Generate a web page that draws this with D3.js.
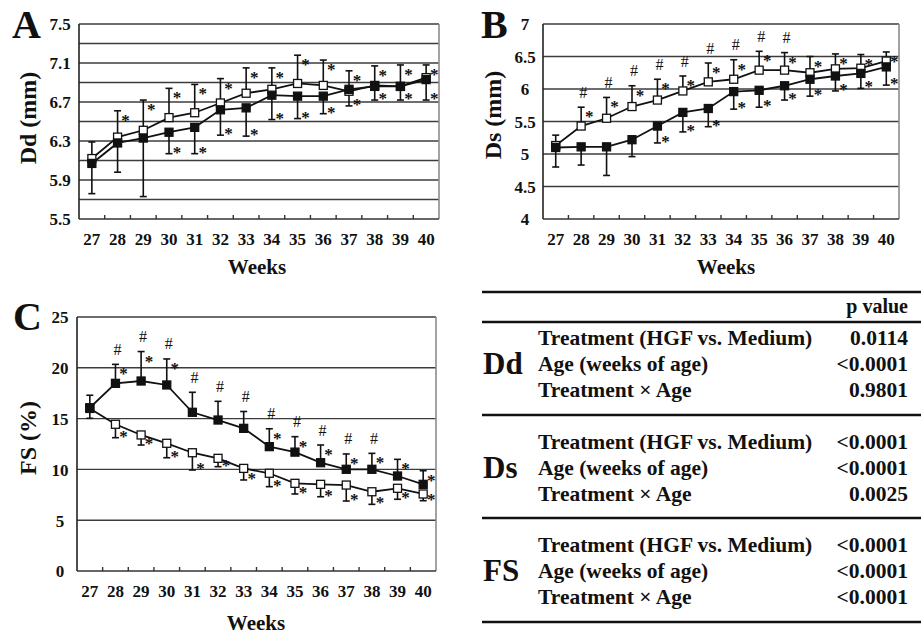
<!DOCTYPE html>
<html>
<head>
<meta charset="utf-8">
<script src="https://cdn.jsdelivr.net/npm/d3@7"></script>
<style>
body { margin: 0; background: #fff; }
svg text { font-family: "Liberation Serif", "Times New Roman", serif; font-weight: bold; fill: #111; }
</style>
</head>
<body>
<svg id="chart" width="922" height="634"></svg>
<script>
const weeks = [27, 28, 29, 30, 31, 32, 33, 34, 35, 36, 37, 38, 39, 40];

// Panel A - Dd (mm)
const ddOpen = [6.12, 6.34, 6.41, 6.54, 6.59, 6.69, 6.79, 6.83, 6.89, 6.87, 6.81, 6.87, 6.86, 6.95];
const ddOpenSD = [0.17, 0.27, 0.31, 0.30, 0.29, 0.25, 0.26, 0.22, 0.29, 0.26, 0.21, 0.20, 0.22, 0.13];
const ddFilled = [6.07, 6.28, 6.33, 6.39, 6.44, 6.62, 6.64, 6.77, 6.76, 6.76, 6.83, 6.86, 6.86, 6.93];
const ddFilledSD = [0.31, 0.30, 0.60, 0.22, 0.27, 0.26, 0.29, 0.25, 0.23, 0.18, 0.17, 0.14, 0.14, 0.21];
const ddOpenStars = [28, 29, 30, 31, 32, 33, 34, 35, 36, 37, 38, 39, 40];
const ddFilledStars = [30, 31, 32, 33, 34, 35, 36, 37, 38, 39, 40];
const ddHashes = [];
const ddTicks = [5.5, 5.9, 6.3, 6.7, 7.1, 7.5];
const ddGrid = [5.7, 5.9, 6.1, 6.3, 6.5, 6.7, 6.9, 7.1, 7.3, 7.5];

// Panel B - Ds (mm)
const dsOpen = [5.13, 5.43, 5.55, 5.73, 5.83, 5.97, 6.11, 6.15, 6.29, 6.29, 6.25, 6.31, 6.32, 6.43];
const dsOpenSD = [0.16, 0.29, 0.32, 0.32, 0.32, 0.23, 0.29, 0.30, 0.29, 0.27, 0.25, 0.23, 0.21, 0.14];
const dsFilled = [5.10, 5.11, 5.11, 5.22, 5.43, 5.64, 5.70, 5.96, 5.98, 6.05, 6.15, 6.20, 6.24, 6.34];
const dsFilledSD = [0.30, 0.28, 0.44, 0.26, 0.26, 0.30, 0.28, 0.27, 0.26, 0.22, 0.26, 0.23, 0.23, 0.28];
const dsOpenStars = [28, 29, 30, 31, 32, 33, 34, 35, 36, 37, 38, 39, 40];
const dsFilledStars = [31, 32, 33, 34, 35, 36, 37, 38, 39, 40];
const dsHashes = [28, 29, 30, 31, 32, 33, 34, 35, 36];
const dsTicks = [4, 4.5, 5, 5.5, 6, 6.5, 7];
const dsGrid = [4.5, 5, 5.5, 6, 6.5, 7];

// Panel C - FS (%)
const fsOpen = [16.0, 14.44, 13.39, 12.57, 11.64, 11.09, 10.1, 9.62, 8.63, 8.53, 8.46, 7.8, 8.14, 7.58];
const fsOpenSD = [0.97, 1.32, 0.99, 1.42, 1.70, 0.82, 1.14, 1.32, 1.05, 1.22, 1.57, 1.24, 1.08, 0.66];
const fsFilled = [16.07, 18.47, 18.7, 18.31, 15.62, 14.86, 14.04, 12.24, 11.7, 10.66, 10.01, 10.01, 9.35, 8.53];
const fsFilledSD = [1.23, 1.87, 2.9, 2.56, 1.97, 1.84, 1.66, 1.76, 1.52, 1.74, 1.51, 1.57, 1.64, 1.34];
const fsOpenStars = [28, 29, 30, 31, 32, 33, 34, 35, 36, 37, 38, 39, 40];
const fsFilledStars = [28, 29, 30, 34, 35, 36, 37, 38, 39, 40];
const fsHashes = [28, 29, 30, 31, 32, 33, 34, 35, 36, 37, 38];
const fsTicks = [0, 5, 10, 15, 20, 25];
const fsGrid = [5, 10, 15, 20, 25];

// Table
const tableGroups = ['Dd', 'Ds', 'FS'];
const tableEffects = ['Treatment (HGF vs. Medium)', 'Age (weeks of age)', 'Treatment \u00d7 Age'];
const ddP = ['0.0114', '<0.0001', '0.9801'];
const dsP = ['<0.0001', '<0.0001', '0.0025'];
const fsP = ['<0.0001', '<0.0001', '<0.0001'];

const svg = d3.select('#chart');

const panels = [
    { letter: 'A', lx: 12, ly: 38, title: 'Dd (mm)', tx: 36, ty: 118, wx: 257, wy: 274,
      x0: 79, x1: 439, y0: 24, y1: 219, domain: [5.5, 7.5], ticks: ddTicks, grid: ddGrid, labelX: 60,
      open: { mean: ddOpen, sd: ddOpenSD, dir: 1, stars: ddOpenStars, hashes: ddHashes },
      filled: { mean: ddFilled, sd: ddFilledSD, dir: -1, stars: ddFilledStars, hashes: [] } },
    { letter: 'B', lx: 481, ly: 38, title: 'Ds (mm)', tx: 501, ty: 115, wx: 726, wy: 274,
      x0: 543, x1: 899, y0: 24, y1: 219, domain: [4, 7], ticks: dsTicks, grid: dsGrid, labelX: 525,
      open: { mean: dsOpen, sd: dsOpenSD, dir: 1, stars: dsOpenStars, hashes: dsHashes },
      filled: { mean: dsFilled, sd: dsFilledSD, dir: -1, stars: dsFilledStars, hashes: [] } },
    { letter: 'C', lx: 13, ly: 330, title: 'FS (%)', tx: 36, ty: 438, wx: 256, wy: 630,
      x0: 77, x1: 436, y0: 317, y1: 571, domain: [0, 25], ticks: fsTicks, grid: fsGrid, labelX: 60,
      open: { mean: fsOpen, sd: fsOpenSD, dir: -1, stars: fsOpenStars, hashes: [] },
      filled: { mean: fsFilled, sd: fsFilledSD, dir: 1, stars: fsFilledStars, hashes: fsHashes } },
];

panels.forEach(drawPanel);
drawTable();

function drawPanel(p) {
    const g = svg.append('g');
    const x = d3.scaleBand().domain(weeks).range([p.x0, p.x1]);
    const y = d3.scaleLinear().domain(p.domain).range([p.y1, p.y0]);
    const cx = (w) => x(w) + x.bandwidth() / 2;

    // grid
    g.selectAll('line.grid').data(p.grid).join('line')
        .attr('class', 'grid')
        .attr('x1', p.x0).attr('x2', p.x1)
        .attr('y1', (d) => y(d)).attr('y2', (d) => y(d))
        .attr('stroke', '#3c3c3c').attr('stroke-width', 1.4);
    g.append('line').attr('x1', p.x1).attr('x2', p.x1).attr('y1', p.y0).attr('y2', p.y1)
        .attr('stroke', '#8c8c8c').attr('stroke-width', 1.6);
    g.append('line').attr('x1', p.x0).attr('x2', p.x0).attr('y1', p.y0).attr('y2', p.y1)
        .attr('stroke', '#222').attr('stroke-width', 1.6);
    g.append('line').attr('x1', p.x0).attr('x2', p.x1).attr('y1', p.y1).attr('y2', p.y1)
        .attr('stroke', '#333').attr('stroke-width', 1.6);
    // inward ticks between weeks
    g.selectAll('line.tick').data(weeks.slice(1)).join('line')
        .attr('class', 'tick')
        .attr('x1', (d) => x(d)).attr('x2', (d) => x(d))
        .attr('y1', p.y1).attr('y2', p.y1 - 4)
        .attr('stroke', '#333').attr('stroke-width', 1.4);

    // x axis labels
    const xa = g.append('g').attr('transform', 'translate(0,' + p.y1 + ')')
        .call(d3.axisBottom(x).tickSize(0).tickPadding(14));
    xa.select('.domain').remove();
    xa.attr('font-family', null).attr('font-size', null);
    xa.selectAll('text').style('font-size', '17px');

    // y axis labels
    const ya = g.append('g').attr('transform', 'translate(' + p.x0 + ',0)')
        .call(d3.axisLeft(y).tickValues(p.ticks).tickSize(0).tickFormat((d) => String(d)));
    ya.select('.domain').remove();
    ya.attr('font-family', null).attr('font-size', null);
    ya.selectAll('text').style('font-size', '17px')
        .attr('text-anchor', 'middle').attr('x', p.labelX - p.x0).attr('dy', '0.35em');

    // titles
    g.append('text').attr('x', p.lx).attr('y', p.ly).style('font-size', '40px').text(p.letter);
    g.append('text').attr('transform', 'translate(' + p.tx + ',' + p.ty + ') rotate(-90)')
        .attr('text-anchor', 'middle').style('font-size', '24px').text(p.title);
    g.append('text').attr('x', p.wx).attr('y', p.wy).attr('text-anchor', 'middle')
        .style('font-size', '21px').text('Weeks');

    const series = [
        Object.assign({ fill: '#fff' }, p.open),
        Object.assign({ fill: '#111' }, p.filled),
    ];
    series.forEach((s) => {
        s.pts = weeks.map((w, i) => ({ w, v: s.mean[i], cap: s.mean[i] + s.dir * s.sd[i] }));
    });

    // error bars
    series.forEach((s) => {
        const eb = g.append('g').attr('stroke', '#111').attr('stroke-width', 1.6);
        eb.selectAll('line.v').data(s.pts).join('line')
            .attr('x1', (d) => cx(d.w)).attr('x2', (d) => cx(d.w))
            .attr('y1', (d) => y(d.v)).attr('y2', (d) => y(d.cap));
        eb.selectAll('line.c').data(s.pts).join('line')
            .attr('x1', (d) => cx(d.w) - 3.5).attr('x2', (d) => cx(d.w) + 3.5)
            .attr('y1', (d) => y(d.cap)).attr('y2', (d) => y(d.cap));
    });

    // lines
    const line = d3.line().x((d) => cx(d.w)).y((d) => y(d.v));
    series.forEach((s) => {
        g.append('path').datum(s.pts).attr('d', line)
            .attr('fill', 'none').attr('stroke', '#111').attr('stroke-width', 1.8);
    });

    // markers
    series.forEach((s) => {
        g.selectAll(null).data(s.pts).join('rect')
            .attr('x', (d) => cx(d.w) - 4).attr('y', (d) => y(d.v) - 4)
            .attr('width', 8).attr('height', 8)
            .attr('fill', s.fill).attr('stroke', '#111').attr('stroke-width', 1.3);
    });

    // significance marks
    series.forEach((s) => {
        const starPts = s.pts.filter((d) => s.stars.includes(d.w));
        g.selectAll(null).data(starPts).join('text')
            .attr('x', (d) => cx(d.w) + 8)
            .attr('y', (d) => y(d.cap) + (s.dir > 0 ? 7 : -4) + 8)
            .attr('text-anchor', 'middle')
            .style('font-size', '17px')
            .text('*');
        const hashPts = s.pts.filter((d) => s.hashes.includes(d.w));
        g.selectAll(null).data(hashPts).join('text')
            .attr('x', (d) => cx(d.w) + 2)
            .attr('y', (d) => y(d.cap) - 15 + 5.5)
            .attr('text-anchor', 'middle')
            .style('font-size', '16px').style('font-weight', 'normal')
            .text('#');
    });
}

function drawTable() {
    const g = svg.append('g');
    const left = 482, right = 921, valueX = 908, effectX = 538;
    const blockTops = [322, 415, 518];
    const firstRow = [23, 34, 34];
    const rowStep = 26;
    const pvals = [ddP, dsP, fsP];

    const rules = [292, 322, 415, 518, 622];
    g.selectAll('line').data(rules).join('line')
        .attr('x1', left).attr('x2', right)
        .attr('y1', (d) => d).attr('y2', (d) => d)
        .attr('stroke', '#111').attr('stroke-width', 2.6);

    g.append('text').attr('x', valueX).attr('y', 313).attr('text-anchor', 'end')
        .style('font-size', '20px').text('p value');

    tableGroups.forEach((grp, gi) => {
        const base = blockTops[gi] + firstRow[gi];
        g.append('text').attr('x', 483).attr('y', base + rowStep + 3)
            .style('font-size', '31px').text(grp);
        tableEffects.forEach((eff, ri) => {
            g.append('text').attr('x', effectX).attr('y', base + ri * rowStep)
                .style('font-size', '21.5px').text(eff);
            g.append('text').attr('x', valueX).attr('y', base + ri * rowStep)
                .attr('text-anchor', 'end').style('font-size', '21.5px').text(pvals[gi][ri]);
        });
    });
}
</script>
</body>
</html>
